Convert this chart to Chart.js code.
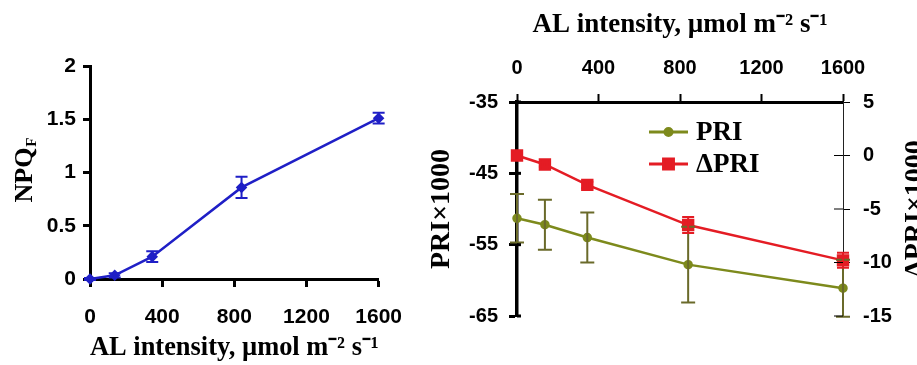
<!DOCTYPE html>
<html>
<head>
<meta charset="utf-8">
<script src="https://cdn.jsdelivr.net/npm/chart.js@4.4.1/dist/chart.umd.min.js"></script>
<style>
  html, body { margin: 0; padding: 0; background: #fff; }
  #wrap { position: relative; width: 917px; height: 365px; overflow: hidden; }
  .panel { position: absolute; top: 0; height: 365px; }
  #leftBox { left: 0; width: 420px; }
  #rightBox { left: 420px; width: 497px; }
</style>
</head>
<body>
<div id="wrap">
  <div class="panel" id="leftBox"><canvas id="npqChart"></canvas></div>
  <div class="panel" id="rightBox"><canvas id="priChart"></canvas></div>
</div>
<script>
// values
const alIntensity = [0, 137, 345, 840, 1600];
const npqF = [0, 0.035, 0.21, 0.86, 1.51];
const npqErr = [0.01, 0.02, 0.05, 0.10, 0.05];
const pri = [-51.3, -52.2, -54.0, -57.8, -61.1];
const priErr = [3.4, 3.5, 3.5, 5.3, 4.0];
const deltaPri = [0, -0.84, -2.75, -6.5, -9.8];
const deltaPriErr = [0.15, 0.2, 0.3, 0.75, 0.7];

const alTicks = [0, 400, 800, 1200, 1600];
const npqTicks = [0, 0.5, 1, 1.5, 2];
const priTicks = [-65, -55, -45, -35];
const deltaPriTicks = [-15, -10, -5, 0, 5];

const xTitle = 'AL intensity, µmol m⁻² s⁻¹';

const SANS = "'Liberation Sans', Arial, sans-serif";
const SERIF = "'Liberation Serif', 'Times New Roman', serif";

const BLUE = '#1f1fc6';
const OLIVE = '#7d8a1c';
const OLIVE_ERR = '#6a6a2a';
const RED = '#e41c24';

function toPoints(xs, ys) {
  return xs.map((x, i) => ({ x: x, y: ys[i] }));
}

function fixedTicks(list) {
  return scale => { scale.ticks = list.map(v => ({ value: v })); };
}

// error bars drawn through the dataset's own y scale
const errorBars = {
  id: 'errorBars',
  afterDatasetsDraw(chart) {
    const ctx = chart.ctx;
    chart.data.datasets.forEach((ds, i) => {
      if (!ds.errors) return;
      const meta = chart.getDatasetMeta(i);
      const yScale = chart.scales[meta.yAxisID];
      ctx.save();
      ctx.strokeStyle = ds.errorColor || ds.borderColor;
      ctx.lineWidth = 2;
      meta.data.forEach((pt, j) => {
        const v = ds.data[j].y;
        const top = yScale.getPixelForValue(v + ds.errors[j]);
        const bot = yScale.getPixelForValue(v - ds.errors[j]);
        const w = ds.capWidth || 6;
        ctx.beginPath();
        ctx.moveTo(pt.x, top); ctx.lineTo(pt.x, bot);
        ctx.moveTo(pt.x - w, top); ctx.lineTo(pt.x + w, top);
        ctx.moveTo(pt.x - w, bot); ctx.lineTo(pt.x + w, bot);
        ctx.stroke();
      });
      ctx.restore();
    });
  }
};

// NPQ with subscript F, rotated
const npqTitle = {
  id: 'npqTitle',
  afterDraw(chart) {
    const ctx = chart.ctx;
    const ys = chart.scales.y;
    const main = 'NPQ', sub = 'F';
    ctx.save();
    ctx.translate(25, (ys.top + ys.bottom) / 2 - 2);
    ctx.rotate(-Math.PI / 2);
    ctx.fillStyle = '#000';
    ctx.textBaseline = 'middle';
    ctx.font = 'bold 26px ' + SERIF;
    const w1 = ctx.measureText(main).width;
    ctx.font = 'bold 15px ' + SERIF;
    const w2 = ctx.measureText(sub).width;
    const x0 = -(w1 + w2) / 2;
    ctx.font = 'bold 26px ' + SERIF;
    ctx.fillText(main, x0, 0);
    ctx.font = 'bold 15px ' + SERIF;
    ctx.fillText(sub, x0 + w1 + 1, 7);
    ctx.restore();
  }
};

// right-hand title reads bottom to top like the left one
const rightTitle = {
  id: 'rightTitle',
  afterDraw(chart) {
    const ctx = chart.ctx;
    const ys = chart.scales.y2;
    ctx.save();
    ctx.translate(chart.width - 1, (ys.top + ys.bottom) / 2);
    ctx.rotate(-Math.PI / 2);
    ctx.fillStyle = '#000';
    ctx.textAlign = 'center';
    ctx.textBaseline = 'middle';
    ctx.font = 'bold 28px ' + SERIF;
    ctx.fillText('ΔPRI×1000', 0, 0);
    ctx.restore();
  }
};

// small inward parts of the tick marks
const innerTicks = {
  id: 'innerTicks',
  afterDraw(chart) {
    const ctx = chart.ctx;
    ctx.save();
    ctx.strokeStyle = '#000';
    const r = chart.scales.y2;
    ctx.lineWidth = 1;
    r.ticks.forEach((t, i) => {
      const y = r.getPixelForTick(i);
      ctx.beginPath(); ctx.moveTo(r.left, y); ctx.lineTo(r.left - 9, y); ctx.stroke();
    });
    const l = chart.scales.y;
    ctx.lineWidth = 3;
    l.ticks.forEach((t, i) => {
      const y = l.getPixelForTick(i);
      ctx.beginPath(); ctx.moveTo(l.right, y); ctx.lineTo(l.right + 4, y); ctx.stroke();
    });
    ctx.restore();
  }
};

// legend inside the plot: line, marker, label
const insideLegend = {
  id: 'insideLegend',
  afterDraw(chart) {
    const ctx = chart.ctx;
    const a = chart.chartArea;
    const x0 = a.left + 132, x1 = a.left + 171;
    ctx.save();
    chart.data.datasets.forEach((ds, i) => {
      const y = a.top + 30 + i * 32;
      ctx.strokeStyle = ds.borderColor;
      ctx.lineWidth = 3;
      ctx.beginPath(); ctx.moveTo(x0, y); ctx.lineTo(x1, y); ctx.stroke();
      ctx.fillStyle = ds.pointBackgroundColor;
      ctx.strokeStyle = ds.pointBorderColor;
      Chart.helpers.drawPoint(ctx, { pointStyle: ds.pointStyle, radius: ds.pointRadius, rotation: 0, borderWidth: 1 }, (x0 + x1) / 2, y);
      ctx.fillStyle = '#000';
      ctx.font = 'bold 27px ' + SERIF;
      ctx.textBaseline = 'middle';
      ctx.textAlign = 'left';
      ctx.fillText(ds.label, x1 + 8, y + 1);
    });
    ctx.restore();
  }
};

const leftTickFont = { family: SANS, weight: 'bold', size: 21 };
const rightTickFont = { family: SANS, weight: 'bold', size: 20 };
const titleFont = { family: SERIF, weight: 'bold', size: 27, lineHeight: 1 };

new Chart(document.getElementById('npqChart'), {
  type: 'line',
  data: {
    datasets: [{
      label: 'NPQF',
      data: toPoints(alIntensity, npqF),
      errors: npqErr,
      borderColor: BLUE,
      backgroundColor: BLUE,
      pointBackgroundColor: BLUE,
      pointBorderColor: BLUE,
      pointStyle: 'rectRot',
      pointRadius: 4,
      borderWidth: 2.5,
      capWidth: 6,
      clip: false
    }]
  },
  options: {
    responsive: true,
    maintainAspectRatio: false,
    animation: false,
    layout: { padding: { left: 0, top: 66, right: 40, bottom: 0 } },
    plugins: { legend: { display: false }, tooltip: { enabled: false } },
    scales: {
      x: {
        type: 'linear', position: 'bottom', min: 0, max: 1600,
        afterBuildTicks: fixedTicks(alTicks),
        afterFit: s => { s.height = 86; },
        ticks: { callback: v => String(v), font: leftTickFont, color: '#000', padding: 18, maxRotation: 0, autoSkip: false },
        grid: { drawOnChartArea: false, drawTicks: true, tickLength: 8, tickWidth: 3, color: '#000' },
        border: { display: true, color: '#000', width: 3 },
        title: { display: true, text: xTitle, font: titleFont, color: '#000', padding: { top: 0, bottom: 3 } }
      },
      y: {
        type: 'linear', position: 'left', min: 0, max: 2,
        afterBuildTicks: fixedTicks(npqTicks),
        afterFit: s => { s.width = 90; },
        ticks: { callback: v => String(v), font: leftTickFont, color: '#000', padding: 7 },
        grid: { drawOnChartArea: false, drawTicks: true, tickLength: 7, tickWidth: 3, color: '#000' },
        border: { display: true, color: '#000', width: 3 }
      }
    }
  },
  plugins: [errorBars, npqTitle]
});

new Chart(document.getElementById('priChart'), {
  type: 'line',
  data: {
    datasets: [{
      label: 'PRI',
      data: toPoints(alIntensity, pri),
      errors: priErr,
      yAxisID: 'y',
      borderColor: OLIVE,
      backgroundColor: OLIVE,
      pointBackgroundColor: OLIVE,
      pointBorderColor: OLIVE,
      errorColor: OLIVE_ERR,
      pointStyle: 'circle',
      pointRadius: 3.5,
      borderWidth: 2.5,
      capWidth: 7,
      clip: false
    }, {
      label: 'ΔPRI',
      data: toPoints(alIntensity, deltaPri),
      errors: deltaPriErr,
      yAxisID: 'y2',
      borderColor: RED,
      backgroundColor: RED,
      pointBackgroundColor: RED,
      pointBorderColor: RED,
      pointStyle: 'rect',
      pointRadius: 7,
      borderWidth: 2.5,
      capWidth: 6,
      clip: false
    }]
  },
  options: {
    responsive: true,
    maintainAspectRatio: false,
    animation: false,
    layout: { padding: { left: 0, top: 0, right: 0, bottom: 49 } },
    plugins: { legend: { display: false }, tooltip: { enabled: false } },
    scales: {
      x: {
        type: 'linear', position: 'top', min: 0, max: 1600,
        afterBuildTicks: fixedTicks(alTicks),
        afterFit: s => { s.height = 102; },
        ticks: { callback: v => String(v), font: rightTickFont, color: '#000', padding: 14, maxRotation: 0, autoSkip: false },
        grid: { drawOnChartArea: false, drawTicks: true, tickLength: 8, tickWidth: 2, color: '#000' },
        border: { display: true, color: '#000', width: 3 },
        title: { display: true, text: xTitle, font: titleFont, color: '#000', padding: { top: 12, bottom: 0 } }
      },
      y: {
        type: 'linear', position: 'left', min: -65, max: -35,
        afterBuildTicks: fixedTicks(priTicks),
        afterFit: s => { s.width = 97; },
        ticks: { callback: v => String(v), font: rightTickFont, color: '#000', padding: 11 },
        grid: { drawOnChartArea: false, drawTicks: true, tickLength: 8, tickWidth: 3, color: '#000' },
        border: { display: true, color: '#000', width: 3.5 },
        title: { display: true, text: 'PRI×1000', font: { family: SERIF, weight: 'bold', size: 28, lineHeight: 1 }, color: '#000', padding: { top: 8, bottom: 0 } }
      },
      y2: {
        type: 'linear', position: 'right', min: -15, max: 5,
        afterBuildTicks: fixedTicks(deltaPriTicks),
        afterFit: s => { s.width = 74; },
        ticks: { callback: v => String(v), font: rightTickFont, color: '#000', padding: 13 },
        grid: { drawOnChartArea: false, drawTicks: true, tickLength: 7, tickWidth: 1, color: '#000' },
        border: { display: true, color: '#222', width: 1 }
      }
    }
  },
  plugins: [errorBars, innerTicks, insideLegend, rightTitle]
});
</script>
</body>
</html>
